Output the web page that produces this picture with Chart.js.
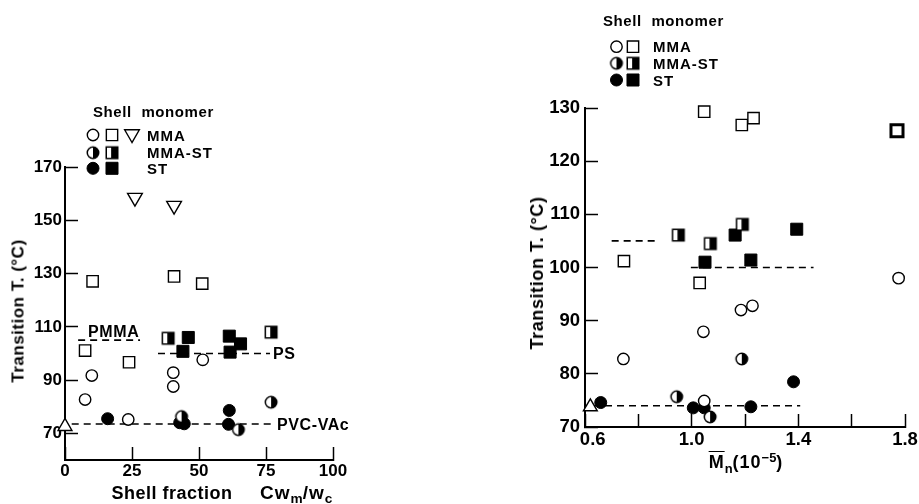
<!DOCTYPE html>
<html><head><meta charset="utf-8">
<script src="https://cdn.jsdelivr.net/npm/chart.js@4.4.1/dist/chart.umd.min.js"></script>
<style>
html,body{margin:0;padding:0;background:#fff;width:919px;height:504px;overflow:hidden;position:relative;font-family:"Liberation Sans",Arial,sans-serif;font-weight:bold;color:#000}
canvas{position:absolute;top:0}
.t{position:absolute;white-space:nowrap;line-height:1}
.rot{transform:translate(-50%,-50%) rotate(-90deg)}
.ctr{transform:translate(-50%,-50%)}
sub{font-size:0.72em;vertical-align:-0.35em;line-height:0;letter-spacing:0}
sup{font-size:0.72em;vertical-align:0.5em;line-height:0;letter-spacing:0}
</style></head><body>
<canvas id="cL" width="460" height="504" style="left:0"></canvas>
<canvas id="cR" width="480" height="504" style="left:460px"></canvas>

<div class="t" style="left:93px;top:104px;font-size:15px;letter-spacing:0.6px">Shell&nbsp; monomer</div>
<div class="t" style="left:147px;top:127.5px;font-size:15px;letter-spacing:1px">MMA</div>
<div class="t" style="left:147px;top:145px;font-size:15px;letter-spacing:1px">MMA-ST</div>
<div class="t" style="left:147px;top:160.5px;font-size:15px;letter-spacing:1px">ST</div>
<div class="t" style="left:88px;top:324px;font-size:16px;letter-spacing:0.6px">PMMA</div>
<div class="t" style="left:273px;top:346px;font-size:16px;letter-spacing:0.6px">PS</div>
<div class="t" style="left:277px;top:417px;font-size:16px;letter-spacing:0.6px">PVC-VAc</div>
<div class="t rot" style="left:18px;top:311px;font-size:17px;letter-spacing:0.5px">Transition T. (°C)</div>
<div class="t ctr" style="left:222px;top:492px;font-size:18px;letter-spacing:0.5px">Shell fraction&nbsp;&nbsp;&nbsp;&nbsp; <span style="font-size:19px;letter-spacing:1px">Cw<sub>m</sub>/w<sub>c</sub></span></div>

<div class="t" style="left:603px;top:12.5px;font-size:15px;letter-spacing:0.6px">Shell&nbsp; monomer</div>
<div class="t" style="left:653px;top:39px;font-size:15px;letter-spacing:1px">MMA</div>
<div class="t" style="left:653px;top:56px;font-size:15px;letter-spacing:1px">MMA-ST</div>
<div class="t" style="left:653px;top:72.5px;font-size:15px;letter-spacing:1px">ST</div>
<div class="t rot" style="left:537px;top:273px;font-size:18px;letter-spacing:0.6px">Transition T. (°C)</div>
<div class="t ctr" style="left:746px;top:462px;font-size:18px;letter-spacing:1px"><span style="text-decoration:overline">M</span><sub>n</sub>(10<sup>−5</sup>)</div>

<script>
// ---------- data: left panel (shell fraction) ----------
const leftXTicks = [0, 25, 50, 75, 100];
const leftXTickLabels = ['0', '25', '50', '75', '100'];
const leftYTicks = [70, 90, 110, 130, 150, 170];
const leftYTickLabels = ['70', '90', '110', '130', '150', '170'];
const leftMmaCircles = [[7.5, 82.7], [10, 91.7], [23.6, 75.2], [40.4, 92.8], [40.4, 87.6], [51.4, 97.6]];
const leftMmaSquares = [[10.3, 127.1], [40.7, 128.9], [51.2, 126.2], [7.5, 101.1], [23.9, 96.7]];
const leftMmaTriangles = [[26.1, 158.5], [40.7, 155.5]];
const leftMixCircles = [[43.5, 76.3], [64.7, 71.4], [76.9, 81.7]];
const leftMixSquares = [[38.5, 105.7], [76.9, 108]];
const leftStCircles = [[15.9, 75.5], [42.8, 74], [44.5, 73.6], [61.3, 78.6], [61, 73.4]];
const leftStSquares = [[46, 106], [44, 100.8], [61.3, 106.5], [61.6, 100.5], [65.5, 103.6]];
const leftReference = [[0, 72.6]];
const leftPmmaLine = [[4.9, 105], [28, 105]];
const leftPsLine = [[34.7, 100], [76.5, 100]];
const leftPvcLine = [[2.5, 73.5], [78, 73.5]];

// ---------- data: right panel (Mn) ----------
const rightXTicks = [0.6, 0.8, 1.0, 1.2, 1.4, 1.6, 1.8];
const rightXTickLabels = ['\u2007\u00a00.6', '', '1.0', '', '1.4', '', '1.8'];
const rightYTicks = [70, 80, 90, 100, 110, 120, 130];
const rightYTickLabels = ['70', '80', '90', '100', '110', '120', '130'];
const rightMmaCircles = [[1.776, 98], [1.228, 92.8], [1.185, 92], [1.044, 87.9], [0.744, 82.8], [1.047, 74.9]];
const rightMmaSquares = [[1.047, 129.3], [1.188, 126.8], [1.232, 128.1], [0.746, 101.2], [1.03, 97.1]];
const rightMmaBoldSquares = [[1.77, 125.7]];
const rightMixCircles = [[1.188, 82.8], [0.944, 75.7], [1.069, 71.9]];
const rightMixSquares = [[0.95, 106.1], [1.07, 104.5], [1.19, 108.1]];
const rightStCircles = [[1.382, 78.5], [0.659, 74.6], [1.006, 73.6], [1.047, 73.6], [1.222, 73.8]];
const rightStSquares = [[1.05, 101], [1.163, 106.1], [1.222, 101.4], [1.394, 107.2]];
const rightReference = [[0.62, 73.8]];
const rightLine105 = [[0.70, 105], [0.88, 105]];
const rightLine100 = [[0.997, 100], [1.457, 100]];
const rightLine74 = [[0.63, 74], [1.407, 74]];

// ---------- marker images ----------
function halfMarker(shape, size) {
  const c = document.createElement('canvas');
  const s = Math.ceil(size + 4); c.width = s; c.height = s;
  const g = c.getContext('2d');
  const m = s / 2, h = size / 2;
  g.lineWidth = 1.5; g.strokeStyle = '#000'; g.fillStyle = '#fff';
  if (shape === 'circle') {
    g.beginPath(); g.arc(m, m, h, 0, 2 * Math.PI); g.fill();
    g.fillStyle = '#000'; g.beginPath(); g.arc(m, m, h, -Math.PI / 2, Math.PI / 2); g.closePath(); g.fill();
    g.beginPath(); g.arc(m, m, h, 0, 2 * Math.PI); g.stroke();
  } else {
    g.fillRect(m - h, m - h, size, size);
    g.fillStyle = '#000'; g.fillRect(m - h * 0.15, m - h, h * 1.15, size);
    g.strokeRect(m - h, m - h, size, size);
  }
  return c;
}
const halfCircleImg = halfMarker('circle', 11.5);
const halfSquareImg = halfMarker('rect', 11.5);

const STY = {
  openCircle:  {pointStyle: 'circle', pointRadius: 5.7, backgroundColor: '#fff', borderColor: '#000', borderWidth: 1.4},
  fillCircle:  {pointStyle: 'circle', pointRadius: 6, backgroundColor: '#000', borderColor: '#000', borderWidth: 1},
  halfCircle:  {pointStyle: halfCircleImg, pointRadius: 6},
  openSquare:  {pointStyle: 'rect', pointRadius: 8, backgroundColor: '#fff', borderColor: '#000', borderWidth: 1.4},
  boldSquare:  {pointStyle: 'rect', pointRadius: 8.5, backgroundColor: '#fff', borderColor: '#000', borderWidth: 3},
  fillSquare:  {pointStyle: 'rect', pointRadius: 8.5, backgroundColor: '#000', borderColor: '#000', borderWidth: 1},
  halfSquare:  {pointStyle: halfSquareImg, pointRadius: 6},
  triDown:     {pointStyle: 'triangle', pointRadius: 8.5, rotation: 180, backgroundColor: '#fff', borderColor: '#000', borderWidth: 1.4},
  triUp:       {pointStyle: 'triangle', pointRadius: 8, rotation: 0, backgroundColor: '#fff', borderColor: '#000', borderWidth: 1.4}
};

function pts(arr) { return arr.map(p => ({x: p[0], y: p[1]})); }
function scatterSet(label, arr, st) {
  return Object.assign({label: label, data: pts(arr), clip: false, pointRotation: st.rotation || 0,
    pointBackgroundColor: st.backgroundColor, pointBorderColor: st.borderColor, pointBorderWidth: st.borderWidth,
    pointHoverRadius: st.pointRadius}, st);
}
function dashSet(label, arr, width) {
  return {type: 'line', label: label, data: pts(arr), borderColor: '#000', borderWidth: width || 1.6,
    borderDash: [7, 5], pointRadius: 0, fill: false, clip: false, order: 10};
}

function legendPlugin(items) {
  return {
    id: 'legendMarks',
    afterDraw(chart) {
      const ctx = chart.ctx;
      items.forEach(it => {
        const st = it.st;
        ctx.save();
        ctx.fillStyle = st.backgroundColor || '#000';
        ctx.strokeStyle = '#000';
        ctx.lineWidth = st.borderWidth || 1;
        Chart.helpers.drawPoint(ctx, {pointStyle: st.pointStyle, radius: it.r || st.pointRadius,
          rotation: st.rotation || 0, borderWidth: st.borderWidth || 0}, it.x, it.y);
        ctx.restore();
      });
    }
  };
}

function axisScales(xMin, xMax, xTicks, xLabels, yMin, yMax, yTicks, yLabels, fontSize, xPad, yPad) {
  const font = {family: 'Liberation Sans', size: fontSize, weight: 'bold'};
  const grid = {display: true, drawOnChartArea: false, drawTicks: true, tickLength: -13, tickWidth: 1.5, color: '#000'};
  return {
    x: {type: 'linear', min: xMin, max: xMax,
      afterBuildTicks: s => { s.ticks = xTicks.map(v => ({value: v})); },
      afterFit: s => { s.height = 30; },
      grid: grid, border: {display: true, color: '#000', width: 2},
      ticks: {padding: xPad, color: '#000', font: font, maxRotation: 0, autoSkip: false,
        callback: (v, i) => xLabels[i]}},
    y: {type: 'linear', min: yMin, max: yMax,
      afterBuildTicks: s => { s.ticks = yTicks.map(v => ({value: v})); },
      afterFit: s => { s.width = 50; },
      grid: grid, border: {display: true, color: '#000', width: 2},
      ticks: {padding: yPad, color: '#000', font: font, autoSkip: false,
        callback: (v, i) => yLabels[i]}}
  };
}

const common = {responsive: false, animation: false, devicePixelRatio: 1,
  plugins: {legend: {display: false}, tooltip: {enabled: false}}, events: []};

new Chart(document.getElementById('cL'), {
  type: 'scatter',
  data: {datasets: [
    scatterSet('MMA circle', leftMmaCircles, STY.openCircle),
    scatterSet('MMA square', leftMmaSquares, STY.openSquare),
    scatterSet('MMA triangle', leftMmaTriangles, STY.triDown),
    scatterSet('MMA-ST circle', leftMixCircles, STY.halfCircle),
    scatterSet('MMA-ST square', leftMixSquares, STY.halfSquare),
    scatterSet('ST circle', leftStCircles, STY.fillCircle),
    scatterSet('ST square', leftStSquares, STY.fillSquare),
    scatterSet('PVC-VAc', leftReference, STY.triUp),
    dashSet('PMMA', leftPmmaLine),
    dashSet('PS', leftPsLine),
    dashSet('PVC-VAc line', leftPvcLine)
  ]},
  options: Object.assign({}, common, {
    layout: {padding: {left: 15, right: 127, top: 167, bottom: 14}},
    scales: axisScales(0, 100, leftXTicks, leftXTickLabels, 60, 170, leftYTicks, leftYTickLabels, 17, 14, 16)
  }),
  plugins: [legendPlugin([
    {st: STY.openCircle, x: 93, y: 135}, {st: STY.openSquare, x: 112, y: 135}, {st: STY.triDown, x: 132, y: 134},
    {st: STY.halfCircle, x: 93, y: 152.7}, {st: STY.halfSquare, x: 112, y: 152.7},
    {st: STY.fillCircle, x: 93, y: 168.3}, {st: STY.fillSquare, x: 112, y: 168.3}
  ])]
});

new Chart(document.getElementById('cR'), {
  type: 'scatter',
  data: {datasets: [
    scatterSet('MMA circle', rightMmaCircles, STY.openCircle),
    scatterSet('MMA square', rightMmaSquares, STY.openSquare),
    scatterSet('MMA square (bold)', rightMmaBoldSquares, STY.boldSquare),
    scatterSet('MMA-ST circle', rightMixCircles, STY.halfCircle),
    scatterSet('MMA-ST square', rightMixSquares, STY.halfSquare),
    scatterSet('ST circle', rightStCircles, STY.fillCircle),
    scatterSet('ST square', rightStSquares, STY.fillSquare),
    scatterSet('PVC-VAc', rightReference, STY.triUp),
    dashSet('PMMA', rightLine105),
    dashSet('PS', rightLine100),
    dashSet('PVC-VAc line', rightLine74)
  ]},
  options: Object.assign({}, common, {
    layout: {padding: {left: 75, right: 35, top: 108, bottom: 47}},
    scales: axisScales(0.6, 1.8, rightXTicks, rightXTickLabels, 70, 130, rightYTicks, rightYTickLabels, 18.5, 15, 18)
  }),
  plugins: [legendPlugin([
    {st: STY.openCircle, x: 156.5, y: 46.7}, {st: STY.openSquare, x: 173, y: 46.7},
    {st: STY.halfCircle, x: 156.5, y: 63.3}, {st: STY.halfSquare, x: 173, y: 63.3},
    {st: STY.fillCircle, x: 156.5, y: 80}, {st: STY.fillSquare, x: 173, y: 80}
  ])]
});
</script>
</body></html>
